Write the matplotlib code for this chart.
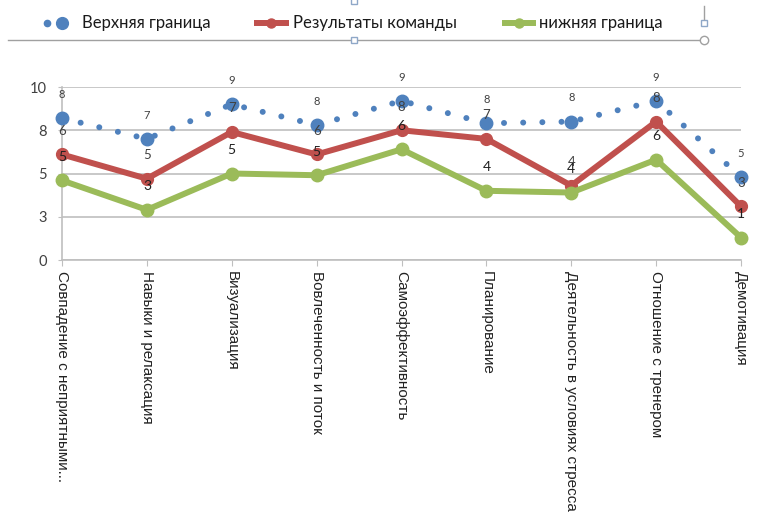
import matplotlib
matplotlib.use("Agg")
import matplotlib.pyplot as plt
from matplotlib.lines import Line2D

# categories and series
categories = [
    "Совпадение с неприятными...",
    "Навыки и релаксация",
    "Визуализация",
    "Вовлеченность и поток",
    "Самоэффективность",
    "Планирование",
    "Деятельность в условиях стресса",
    "Отношение с тренером",
    "Демотивация",
]
upper = [8.2, 7.0, 9.0, 7.8, 9.2, 7.9, 8.0, 9.2, 4.8]
team = [6.1, 4.7, 7.4, 6.1, 7.5, 7.0, 4.3, 8.0, 3.1]
lower = [4.6, 2.9, 5.0, 4.9, 6.4, 4.0, 3.9, 5.8, 1.3]
yticks = [0, 2.5, 5, 7.5, 10]
series_names = ["Верхняя граница", "Результаты команды", "нижняя граница"]

BLUE = "#4F81BD"
RED = "#C0504D"
GREEN = "#9BBB59"
TXT = "#404040"

W, H = 768, 517
fig = plt.figure(figsize=(W / 100, H / 100), dpi=100)
ax = fig.add_axes([62 / W, 1 - 260 / H, (741 - 62) / W, 173 / H])


def fx(px):
    return px / W


def fy(py):
    return 1 - py / H


x = list(range(len(categories)))

ax.plot(x, upper, color=BLUE, lw=4.3, linestyle=(0, (0.01, 3.2)),
        dash_capstyle="round", marker="o", markersize=9, clip_on=False, zorder=3)
ax.plot(x, team, color=RED, lw=4.3, marker="o", markersize=8.5,
        solid_capstyle="round", clip_on=False, zorder=4)
ax.plot(x, lower, color=GREEN, lw=4.3, marker="o", markersize=9,
        solid_capstyle="round", clip_on=False, zorder=5)

# data labels, rounded like the original number format
for vals, fs, col in [(upper, 8, TXT), (team, 9.5, TXT), (lower, 10, "#202020")]:
    for xi, v in zip(x, vals):
        ax.annotate("%d" % int(v + 0.5), (xi, v), xytext=(0, 17), textcoords="offset points",
                    ha="center", va="center", fontsize=fs, color=col, family="Lato", zorder=6)

ax.set_xlim(0, len(categories) - 1)
ax.set_ylim(0, 10)
ax.set_yticks(yticks)
ax.set_yticklabels(["%d" % int(t + 0.5) for t in yticks], family="Lato", fontsize=10.5, color=TXT)
ax.set_xticks(x)
ax.set_xticklabels(categories, rotation=270, ha="center", va="top",
                   family="Liberation Sans", fontsize=11, color="#222222")
ax.grid(axis="y", color="#BFBFBF", lw=1.2)
ax.set_axisbelow(True)
for side in ["top", "right"]:
    ax.spines[side].set_visible(False)
for side in ["left", "bottom"]:
    ax.spines[side].set_color("#BFBFBF")
    ax.spines[side].set_linewidth(1.2)
ax.tick_params(axis="x", length=4, color="#BFBFBF", pad=4)
ax.tick_params(axis="y", length=3, color="#BFBFBF", pad=8)

# legend drawn by hand at the top
ly = fy(23)
fig.add_artist(Line2D([fx(47)], [ly], marker="o", markersize=4.5, color=BLUE, lw=0))
fig.add_artist(Line2D([fx(62)], [ly], marker="o", markersize=8.5, color=BLUE, lw=0))
fig.text(fx(82), ly, series_names[0], family="Lato", fontsize=12, color="#1a1a1a", va="center")
fig.add_artist(Line2D([fx(254), fx(289)], [ly, ly], color=RED, lw=4.3, solid_capstyle="butt"))
fig.add_artist(Line2D([fx(271)], [ly], marker="o", markersize=6.5, color=RED, lw=0))
fig.text(fx(293), ly, series_names[1], family="Lato", fontsize=12, color="#1a1a1a", va="center")
fig.add_artist(Line2D([fx(502), fx(536)], [ly, ly], color=GREEN, lw=4.3, solid_capstyle="butt"))
fig.add_artist(Line2D([fx(519)], [ly], marker="o", markersize=6.5, color=GREEN, lw=0))
fig.text(fx(539), ly, series_names[2], family="Lato", fontsize=12, color="#1a1a1a", va="center")

# selection frame remnants from the screenshot
sel = "#8FA8C8"
fig.add_artist(Line2D([fx(8), fx(704)], [fy(40), fy(40)], color="#A0A0A0", lw=1))
for px, py in [(354, 40), (354, 1), (704, 23)]:
    fig.add_artist(Line2D([fx(px)], [fy(py)], marker="s", markersize=4,
                          markerfacecolor="white", markeredgecolor=sel))
fig.add_artist(Line2D([fx(704)], [fy(40)], marker="o", markersize=6,
                      markerfacecolor="white", markeredgecolor="#A0A0A0"))
fig.add_artist(Line2D([fx(704), fx(704)], [fy(19), fy(6)], color="#A0A0A0", lw=1))

fig.savefig("out.png", dpi=100)
